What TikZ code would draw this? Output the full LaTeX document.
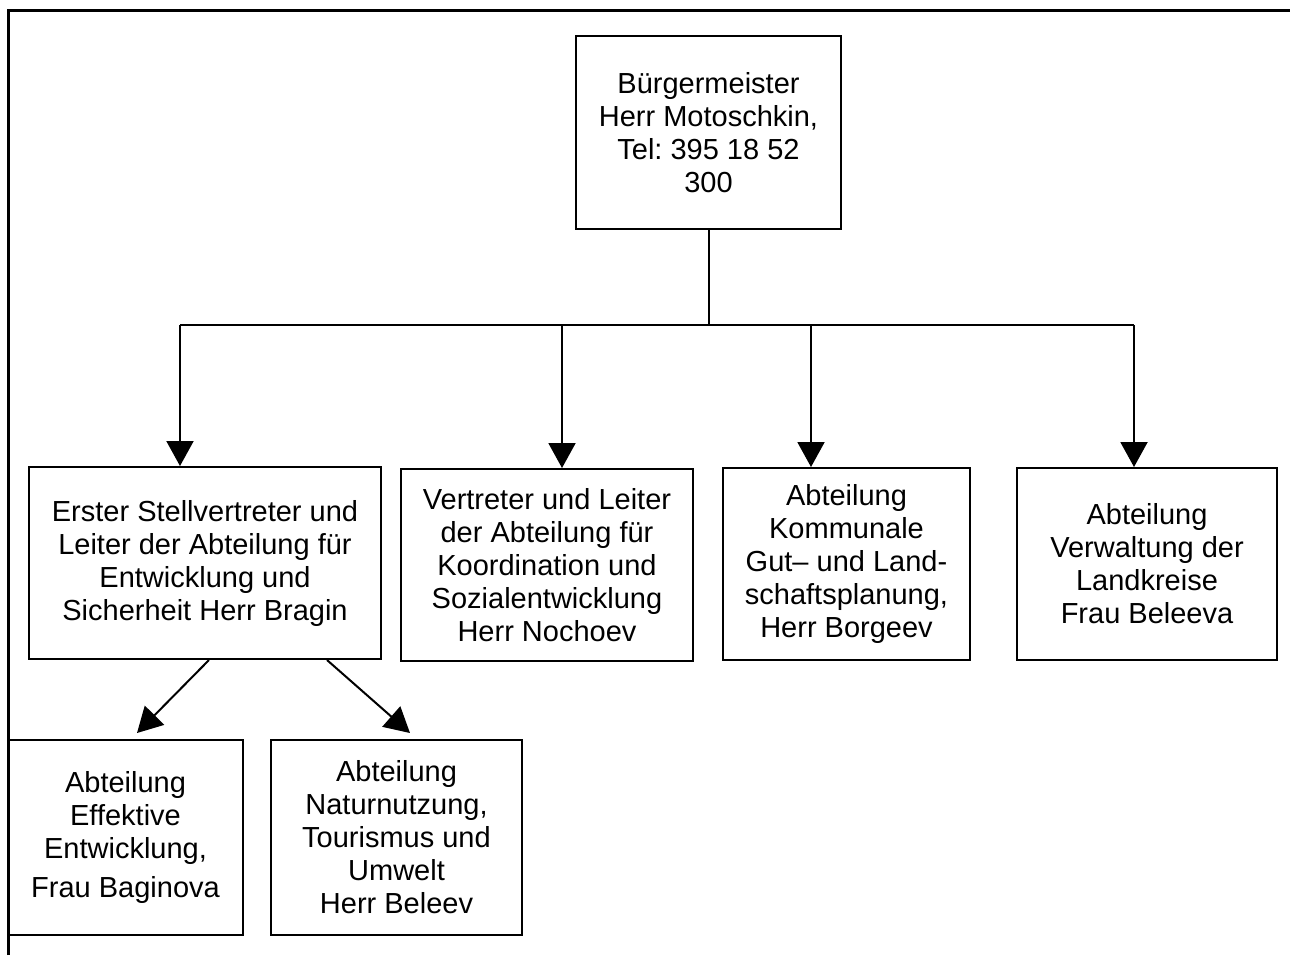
\documentclass[tikz,border=0pt]{standalone}
\usepackage{fontspec}
\setmainfont{Liberation Sans}
\frenchspacing
\usetikzlibrary{arrows.meta, positioning, calc}

\tikzset{
  unit/.style={draw, line width=1pt, rectangle, align=center, inner sep=2pt,
    font=\fontsize{14.5}{16.5}\selectfont},
  arr/.style={-{Triangle[width=13.5pt,length=12.5pt]}, line width=1pt},
}

\begin{document}
\begin{tikzpicture}[x=0.5pt, y=-0.5pt]
    \useasboundingbox (0,0) rectangle (1290,955);
    % frame
    \draw[line width=1.5pt] (8,955) -- (8,10) -- (1290,10);

    % boxes
    \node[unit, minimum width=132.5pt, minimum height=96.5pt] (mayor) at (708.5,132.5)
        {Bürgermeister\\Herr Motoschkin,\\Tel: 395 18 52\\300};
    \node[unit, minimum width=176pt, minimum height=96pt] (b1) at (205,563)
        {Erster Stellvertreter und\\Leiter der Abteilung für\\Entwicklung und\\Sicherheit Herr Bragin};
    \node[unit, minimum width=146pt, minimum height=96pt] (b2) at (547,565)
        {Vertreter und Leiter\\der Abteilung für\\Koordination und\\Sozialentwicklung\\Herr Nochoev};
    \node[unit, minimum width=123.5pt, minimum height=96pt] (b3) at (846.5,564)
        {Abteilung\\Kommunale\\Gut– und Land-\\schaftsplanung,\\Herr Borgeev};
    \node[unit, minimum width=130pt, minimum height=96pt] (b4) at (1147,564)
        {Abteilung\\Verwaltung der\\Landkreise\\Frau Beleeva};
    \node[unit, minimum width=117.5pt, minimum height=97.5pt] (c1) at (125.5,837.5)
        {Abteilung\\Effektive\\Entwicklung,\\[3pt]Frau Baginova};
    \node[unit, minimum width=125.5pt, minimum height=97.5pt] (c2) at (396.5,837.5)
        {Abteilung\\Naturnutzung,\\Tourismus und\\Umwelt\\Herr Beleev};

    % bus
    \coordinate (hub) at (708.5,325);
    \coordinate (j1) at (180,325);
    \coordinate (j2) at (562,325);
    \coordinate (j3) at (811,325);
    \coordinate (j4) at (1134,325);
    \draw[line width=1pt] (mayor.south) -- (hub);
    \draw[line width=1pt] (j1) -- (j4);
    \draw[arr] (j1) -- (j1 |- b1.north);
    \draw[arr] (j2) -- (j2 |- b2.north);
    \draw[arr] (j3) -- (j3 |- b3.north);
    \draw[arr] (j4) -- (j4 |- b4.north);

    \draw[arr] ([shift={(4,0)}]b1.south) -- ([shift={(11.5,-6)}]c1.north);
    \draw[arr] ([shift={(122,0)}]b1.south) -- ([shift={(13.5,-6)}]c2.north);
\end{tikzpicture}
\end{document}
